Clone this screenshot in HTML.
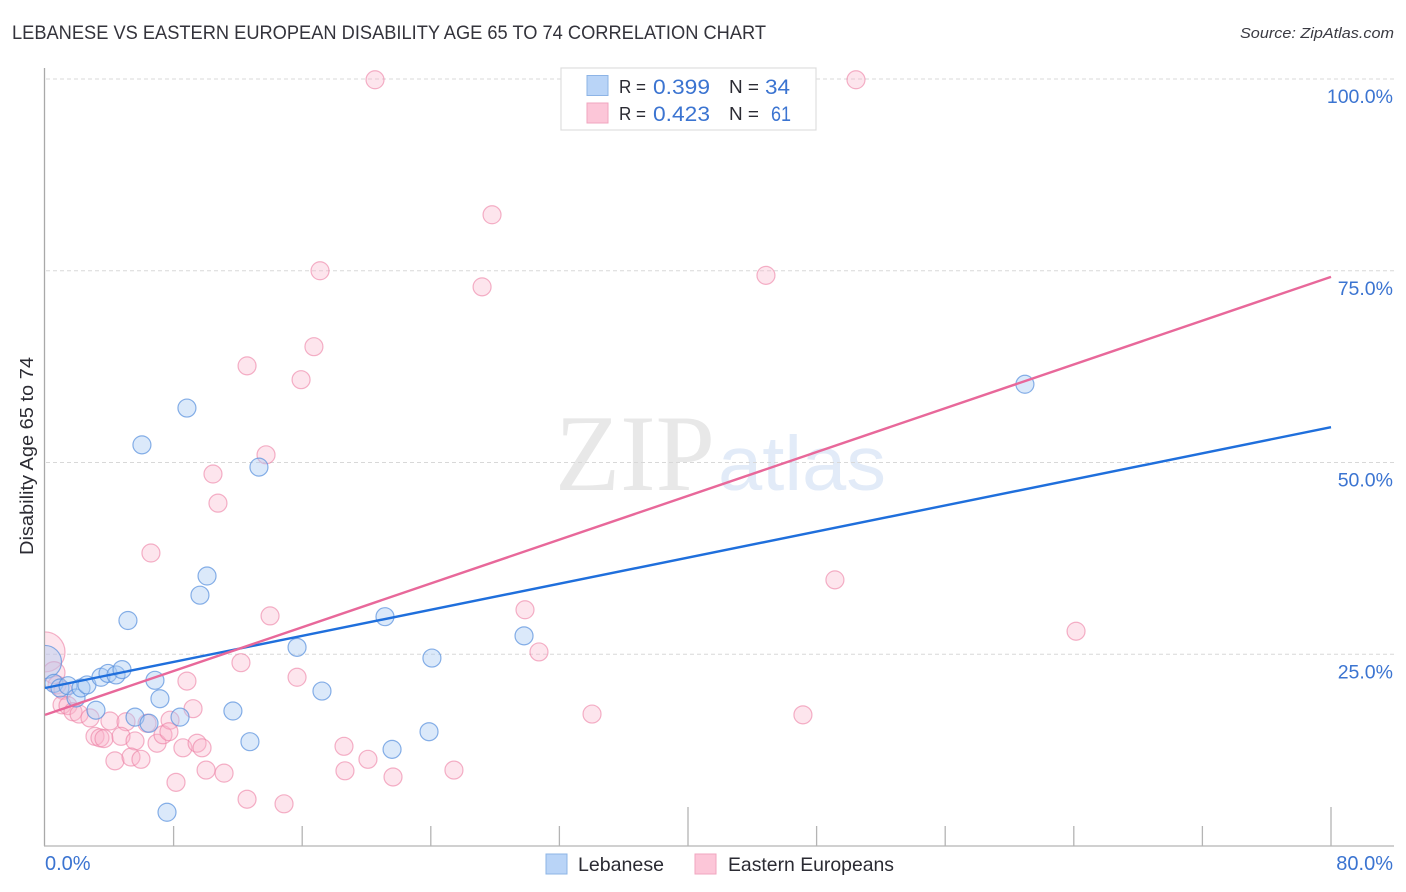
<!DOCTYPE html>
<html>
<head>
<meta charset="utf-8">
<title>Lebanese vs Eastern European Disability Age 65 to 74 Correlation Chart</title>
<style>
html,body{margin:0;padding:0;background:#fff;}
svg{display:block;font-family:"Liberation Sans",sans-serif;}
</style>
</head>
<body>
<svg id="chart" width="1406" height="892" viewBox="0 0 1406 892">
  <defs>
    <clipPath id="plot-clip"><rect x="45" y="60" width="1361" height="786"/></clipPath>
  </defs>
  <text x="12" y="39" font-size="19" fill="#33333b" textLength="754" lengthAdjust="spacingAndGlyphs">LEBANESE VS EASTERN EUROPEAN DISABILITY AGE 65 TO 74 CORRELATION CHART</text>
  <text x="1394" y="38" font-size="15" font-style="italic" fill="#3a3a42" text-anchor="end" textLength="154" lengthAdjust="spacingAndGlyphs">Source: ZipAtlas.com</text>
  <g id="watermark">
    <text x="555" y="490" font-family="'Liberation Serif',serif" font-size="109" fill="#e8e8e8" textLength="160" lengthAdjust="spacingAndGlyphs">ZIP</text>
    <text x="718" y="490" font-family="'Liberation Sans',sans-serif" font-size="77" fill="#e2ebf8" textLength="168" lengthAdjust="spacingAndGlyphs">atlas</text>
  </g>
  <g id="grid"></g>
  <g id="axes">
    <line x1="44.5" y1="68" x2="44.5" y2="846" stroke="#a9a9a9" stroke-width="1.3"/>
    <line x1="44" y1="846" x2="1394" y2="846" stroke="#b4b4b4" stroke-width="1.3"/>
  </g>
  <g id="ticks"></g>
  <g id="ylabels"></g>
  <g id="xlabels"></g>
  <text transform="translate(33,456) rotate(-90)" font-size="18" fill="#2b2b33" text-anchor="middle" textLength="198" lengthAdjust="spacingAndGlyphs">Disability Age 65 to 74</text>
  <g id="pink-points" clip-path="url(#plot-clip)"></g>
  <g id="blue-points" clip-path="url(#plot-clip)"></g>
  <g id="trend-lines"></g>

  <g>
    <rect x="561" y="68" width="255" height="62" fill="#fff" stroke="#dedede" stroke-width="1.2"/>
    <rect x="587" y="75.5" width="21" height="20" fill="#b9d4f7" stroke="#8db4e6" stroke-width="1"/>
    <rect x="587" y="103" width="21" height="20" fill="#fcc6d8" stroke="#f0a6bf" stroke-width="1"/>
    <text x="619" y="93" font-size="18.5" fill="#2b2b33" textLength="27" lengthAdjust="spacingAndGlyphs">R =</text>
    <text x="653" y="94" font-size="21.5" fill="#3b74d1" textLength="57" lengthAdjust="spacingAndGlyphs">0.399</text>
    <text x="729" y="93" font-size="18.5" fill="#2b2b33" textLength="30" lengthAdjust="spacingAndGlyphs">N =</text>
    <text x="765" y="94" font-size="21.5" fill="#3b74d1" textLength="25" lengthAdjust="spacingAndGlyphs">34</text>
    <text x="619" y="120" font-size="18.5" fill="#2b2b33" textLength="27" lengthAdjust="spacingAndGlyphs">R =</text>
    <text x="653" y="121" font-size="21.5" fill="#3b74d1" textLength="57" lengthAdjust="spacingAndGlyphs">0.423</text>
    <text x="729" y="120" font-size="18.5" fill="#2b2b33" textLength="30" lengthAdjust="spacingAndGlyphs">N =</text>
    <text x="771" y="121" font-size="21.5" fill="#3b74d1" textLength="20" lengthAdjust="spacingAndGlyphs">61</text>
  </g>

  <g>
    <rect x="546" y="854" width="21" height="20" fill="#b9d4f7" stroke="#8db4e6" stroke-width="1"/>
    <text x="578" y="871" font-size="19.5" fill="#2b2b33" textLength="86" lengthAdjust="spacingAndGlyphs">Lebanese</text>
    <rect x="695" y="854" width="21" height="20" fill="#fcc6d8" stroke="#f0a6bf" stroke-width="1"/>
    <text x="728" y="871" font-size="19.5" fill="#2b2b33" textLength="166" lengthAdjust="spacingAndGlyphs">Eastern Europeans</text>
  </g>
</svg>
<script>
// ---- chart data (percent values) ----
const yTickValues = [25, 50, 75, 100];
const yTickLabels = ["25.0%", "50.0%", "75.0%", "100.0%"];
const xTickValues = [8, 16, 24, 32, 40, 48, 56, 64, 72, 80];
const xMajorTicks = [40, 80];
const xEndValues = [0, 80];
const xEndLabels = ["0.0%", "80.0%"];

const lebaneseX = [0.0, 0.56, 0.93, 1.43, 1.93, 2.24, 2.61, 3.17, 3.48, 3.92, 4.42, 4.79, 5.16, 5.6, 6.03, 6.47, 6.84, 7.15, 7.59, 8.4, 8.83, 9.64, 10.08, 11.69, 12.75, 13.31, 15.68, 17.23, 21.15, 21.59, 23.89, 24.07, 29.8, 60.96];
const lebaneseY = [24.0, 21.2, 20.6, 20.9, 19.3, 20.6, 21.0, 17.7, 22.0, 22.5, 22.3, 23.0, 29.4, 16.8, 52.3, 16.0, 21.6, 19.2, 4.4, 16.8, 57.1, 32.7, 35.2, 17.6, 13.6, 49.4, 25.9, 20.2, 29.9, 12.6, 14.9, 24.5, 27.4, 60.2];
const lebaneseSize = [16.5, 9, 9, 9, 9, 9, 9, 9, 9, 9, 9, 9, 9, 9, 9, 9, 9, 9, 9, 9, 9, 9, 9, 9, 9, 9, 9, 9, 9, 9, 9, 9, 9, 9];

const easternX = [0.0, 0.56, 0.75, 1.12, 1.06, 1.43, 1.74, 2.12, 2.8, 4.04, 5.04, 3.11, 3.42, 3.67, 4.73, 5.6, 4.35, 5.35, 5.97, 6.35, 6.97, 7.34, 7.78, 7.71, 9.21, 8.58, 9.46, 9.77, 10.02, 11.14, 8.15, 12.57, 14.87, 8.83, 12.19, 14.0, 6.59, 10.45, 10.76, 12.57, 13.75, 15.68, 15.93, 16.73, 17.11, 18.6, 18.66, 20.09, 20.53, 21.65, 25.44, 27.19, 27.81, 29.86, 30.73, 34.03, 44.85, 47.15, 49.14, 50.45, 64.14];
const easternY = [25.3, 22.6, 21.0, 20.3, 18.4, 18.3, 17.5, 17.2, 16.7, 16.3, 16.2, 14.3, 14.1, 14.0, 14.3, 13.7, 11.1, 11.6, 11.3, 16.0, 13.4, 14.5, 16.4, 14.9, 17.9, 12.8, 13.4, 12.8, 9.9, 9.5, 8.3, 6.1, 5.5, 21.5, 23.9, 30.0, 38.2, 48.5, 44.7, 62.6, 51.0, 22.0, 60.8, 65.1, 75.0, 13.0, 9.8, 11.3, 99.9, 9.0, 9.9, 72.9, 82.3, 30.8, 25.3, 17.2, 74.4, 17.1, 34.7, 99.9, 28.0];
const easternSize = [20, 11, 9, 9, 9, 9, 9, 9, 9, 9, 9, 9, 9, 9, 9, 9, 9, 9, 9, 9, 9, 9, 9, 9, 9, 9, 9, 9, 9, 9, 9, 9, 9, 9, 9, 9, 9, 9, 9, 9, 9, 9, 9, 9, 9, 9, 9, 9, 9, 9, 9, 9, 9, 9, 9, 9, 9, 9, 9, 9, 9];

const lebaneseTrend = [20.6, 54.6];
const easternTrend = [17.1, 74.2];

// ---- axis functions ----
const SVG_NS = "http://www.w3.org/2000/svg";
function xScale(v) { return 45 + v * (1331 - 45) / 80; }
function yScale(v) { return 846 - v * (846 - 79) / 100; }
function make(tag, attrs) {
  const el = document.createElementNS(SVG_NS, tag);
  for (const k in attrs) el.setAttribute(k, attrs[k]);
  return el;
}
const gridG = document.getElementById("grid");
const ticksG = document.getElementById("ticks");
const yLabelsG = document.getElementById("ylabels");
const xLabelsG = document.getElementById("xlabels");
const pinkG = document.getElementById("pink-points");
const blueG = document.getElementById("blue-points");
const trendG = document.getElementById("trend-lines");

yTickValues.forEach(function (v, i) {
  const line = make("line", {x1: 46, x2: 1394, y1: yScale(v), y2: yScale(v), stroke: "#d8d8d8", "stroke-width": 1, "stroke-dasharray": "4 3"});
  
  
  gridG.appendChild(line);
  const t = make("text", {x: 1393, y: yScale(v) + 24, "font-size": 19.5, fill: "#3b74d1", "text-anchor": "end"});
  t.textContent = yTickLabels[i];
  
  
  yLabelsG.appendChild(t);
});

xTickValues.forEach(function (v) {
  const isMajor = xMajorTicks.indexOf(v) >= 0;
  const tick = make("line", {x1: xScale(v), x2: xScale(v), y1: isMajor ? 807 : 826, y2: 846, stroke: "#b4b4b4", "stroke-width": 1.3});
  
  
  ticksG.appendChild(tick);
});

xEndValues.forEach(function (v, i) {
  const t = make("text", {x: i === 0 ? xScale(v) : 1393, y: 870, "font-size": 20, fill: "#3b74d1", "text-anchor": i === 0 ? "start" : "end"});
  t.textContent = xEndLabels[i];
  
  
  xLabelsG.appendChild(t);
});

easternX.forEach(function (v, i) {
  const c = make("circle", {cx: xScale(v), cy: yScale(easternY[i]), r: easternSize[i], fill: "#f9b4cb", "fill-opacity": 0.34, stroke: "#ec7fa3", "stroke-opacity": 0.6, "stroke-width": 1.2});
  
  
  pinkG.appendChild(c);
});

lebaneseX.forEach(function (v, i) {
  const c = make("circle", {cx: xScale(v), cy: yScale(lebaneseY[i]), r: lebaneseSize[i], fill: "#a9caf3", "fill-opacity": 0.42, stroke: "#5a92de", "stroke-opacity": 0.72, "stroke-width": 1.2});
  
  
  blueG.appendChild(c);
});

const blueLine = make("line", {x1: xScale(xEndValues[0]), y1: yScale(lebaneseTrend[0]), x2: xScale(xEndValues[1]), y2: yScale(lebaneseTrend[1]), stroke: "#1f6fdc", "stroke-width": 2.4});


trendG.appendChild(blueLine);

const pinkLine = make("line", {x1: xScale(xEndValues[0]), y1: yScale(easternTrend[0]), x2: xScale(xEndValues[1]), y2: yScale(easternTrend[1]), stroke: "#e8689a", "stroke-width": 2.4});


trendG.appendChild(pinkLine);
</script>
</body>
</html>
